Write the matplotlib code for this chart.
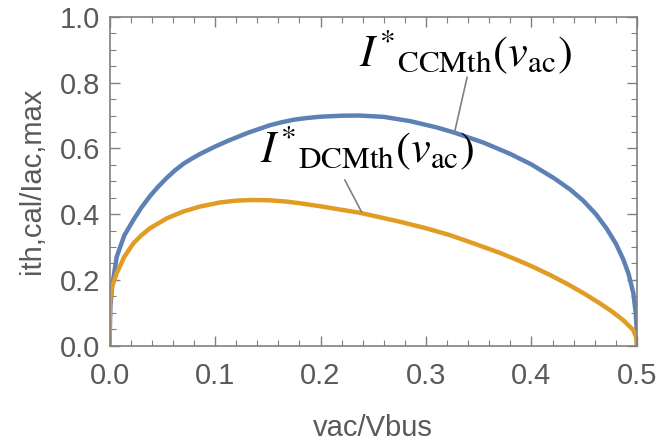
import numpy as np
import matplotlib
matplotlib.use("Agg")
import matplotlib.pyplot as plt
from matplotlib.ticker import MultipleLocator

# values
ccm_x = [0.0, 0.0008, 0.0025, 0.0068, 0.014, 0.0226, 0.03, 0.0384, 0.046, 0.0542,
         0.062, 0.07, 0.078, 0.0858, 0.1, 0.1126, 0.132, 0.152, 0.163, 0.175, 0.187,
         0.2, 0.22, 0.237, 0.26, 0.285, 0.31, 0.327, 0.355, 0.38, 0.40, 0.422, 0.437,
         0.449, 0.461, 0.471, 0.48, 0.487, 0.492, 0.4965, 0.4988, 0.4997, 0.5]
ccm_y = [0.0, 0.12, 0.18, 0.27, 0.335, 0.382, 0.419, 0.455, 0.483, 0.510,
         0.533, 0.553, 0.569, 0.583, 0.6055, 0.6235, 0.6485, 0.6705, 0.6795, 0.6875, 0.6925,
         0.6965, 0.6995, 0.700, 0.696, 0.683, 0.664, 0.648, 0.617, 0.583, 0.551, 0.508, 0.474,
         0.441, 0.400, 0.357, 0.310, 0.262, 0.218, 0.160, 0.100, 0.050, 0.0]

dcm_x = [0.0, 0.0002, 0.0005, 0.0025, 0.0068, 0.014, 0.0226, 0.03, 0.0384, 0.0542,
         0.07, 0.0858, 0.1047, 0.12, 0.136, 0.152, 0.168, 0.1806, 0.1995, 0.2374,
         0.275, 0.3, 0.3227, 0.345, 0.370, 0.389, 0.4017, 0.418, 0.433, 0.45, 0.465,
         0.477, 0.487, 0.4965, 0.4992, 0.5]
dcm_y = [0.0, 0.07, 0.139, 0.18, 0.220, 0.27, 0.311, 0.335, 0.357, 0.387,
         0.408, 0.423, 0.4355, 0.441, 0.443, 0.442, 0.438, 0.433, 0.424, 0.404,
         0.377, 0.357, 0.336, 0.311, 0.282, 0.257, 0.239, 0.214, 0.189, 0.158, 0.128,
         0.102, 0.077, 0.047, 0.025, 0.0]

xticks = [0.0, 0.1, 0.2, 0.3, 0.4, 0.5]
yticks = [0.0, 0.2, 0.4, 0.6, 0.8, 1.0]

plt.rcParams['font.family'] = ['Liberation Sans', 'DejaVu Sans']
plt.rcParams['mathtext.fontset'] = 'stix'

fig = plt.figure(figsize=(6.59, 4.46), dpi=100)
ax = fig.add_axes([0.1662, 0.2253, 0.8004, 0.7366])

blue = '#5E81B5'
orange = '#E19C24'
ax.plot(ccm_x, ccm_y, color=blue, lw=3.2, solid_capstyle='butt')
ax.plot(dcm_x, dcm_y, color=orange, lw=3.2, solid_capstyle='butt')

ax.set_xlim(0, 0.5)
ax.set_ylim(0, 1.0)
ax.set_xticks(xticks)
ax.set_yticks(yticks)
ax.set_xticklabels([f"{t:.1f}" for t in xticks])
ax.set_yticklabels([f"{t:.1f}" for t in yticks])
ax.xaxis.set_minor_locator(MultipleLocator(0.02))
ax.yaxis.set_minor_locator(MultipleLocator(0.05))

grey = '#808080'
for s in ax.spines.values():
    s.set_color(grey)
    s.set_linewidth(1.2)
ax.tick_params(which='both', direction='in', top=True, right=True,
               labeltop=False, labelright=False, colors=grey)
ax.tick_params(which='major', length=7, width=1)
ax.tick_params(which='minor', length=4, width=0.8)
ax.tick_params(axis='both', labelsize=21, labelcolor='#5a5a5a')
ax.tick_params(axis='y', pad=7)
ax.tick_params(axis='x', pad=12)

ax.set_xlabel('vac/Vbus', fontsize=21, color='#5a5a5a', labelpad=17)
ax.set_ylabel('ith,cal/Iac,max', fontsize=21, color='#5a5a5a', labelpad=10)

# curve labels with leader lines
ax.text(0.337, 0.893, r'$I^{*}{}_{\mathrm{CCMth}}(v_{\mathrm{ac}})$',
        fontsize=32, ha='center', va='center')
ax.annotate('', xy=(0.327, 0.648), xytext=(0.339, 0.817),
            arrowprops=dict(arrowstyle='-', color=grey, lw=1.2,
                            shrinkA=0, shrinkB=0))
ax.text(0.244, 0.601, r'$I^{*}{}_{\mathrm{DCMth}}(v_{\mathrm{ac}})$',
        fontsize=32, ha='center', va='center')
ax.annotate('', xy=(0.239, 0.406), xytext=(0.223, 0.504),
            arrowprops=dict(arrowstyle='-', color=grey, lw=1.2,
                            shrinkA=0, shrinkB=0))

fig.savefig('out.png', dpi=100)
